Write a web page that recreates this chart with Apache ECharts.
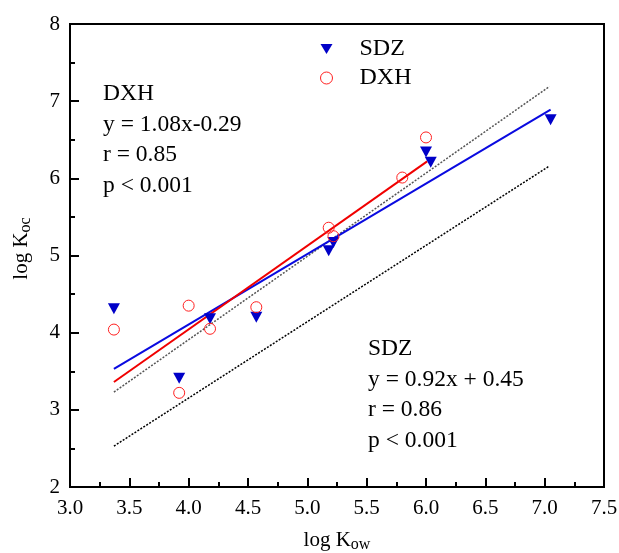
<!DOCTYPE html>
<html><head><meta charset="utf-8">
<script src="https://cdn.jsdelivr.net/npm/echarts@6/dist/echarts.min.js"></script>
<style>html,body{margin:0;padding:0;background:#fff}#c{width:619px;height:553px}</style>
</head><body><div id="c"></div>
<script>
// Data
const sdzX = [3.37, 3.92, 4.18, 4.57, 5.18, 5.22, 6.00, 6.04, 7.05];
const sdzY = [4.31, 3.41, 4.18, 4.20, 5.06, 5.17, 6.34, 6.21, 6.76];
const dxhX = [3.37, 3.92, 4.00, 4.18, 4.57, 5.18, 5.22, 5.80, 6.00];
const dxhY = [4.04, 3.22, 4.35, 4.05, 4.33, 5.36, 5.25, 6.01, 6.53];
const sdzFitX = [3.37, 7.05];
const sdzFitY = [3.53, 6.89];
const dxhFitX = [3.37, 6.01];
const dxhFitY = [3.36, 6.22];
const grayRefX = [3.37, 7.04];
const grayRefY = [3.23, 7.19];
const blackRefX = [3.37, 7.04];
const blackRefY = [2.53, 6.16];
const xTicks = {min: 3.0, max: 7.5, interval: 0.5};
const yTicks = {min: 2, max: 8, interval: 1};
const dxhNote = ['DXH', 'y = 1.08x-0.29', 'r = 0.85', 'p < 0.001'];
const sdzNote = ['SDZ', 'y = 0.92x + 0.45', 'r = 0.86', 'p < 0.001'];

const zip = (a, b) => a.map((v, i) => [v, b[i]]);
const FONT = '"Liberation Serif", "Times New Roman", serif';

const chart = echarts.init(document.getElementById('c'));
chart.setOption({
  animation: false,
  backgroundColor: '#ffffff',
  grid: {left: 70, right: 15, top: 24, bottom: 66, show: true, borderColor: '#000000', borderWidth: 2,
    containLabel: false, outerBoundsMode: 'none'},
  xAxis: {
    type: 'value', min: xTicks.min, max: xTicks.max, interval: xTicks.interval,
    axisLine: {show: true, onZero: false, lineStyle: {color: '#000000', width: 2}},
    axisTick: {show: true, inside: true, length: 9, lineStyle: {color: '#000000', width: 2}},
    minorTick: {show: true, splitNumber: 2, length: 5, lineStyle: {color: '#000000', width: 2}},
    splitLine: {show: false},
    axisLabel: {color: '#000', fontFamily: FONT, fontSize: 21, margin: 11, formatter: v => v.toFixed(1)},
    name: 'log K{sub|ow}', nameLocation: 'middle', nameGap: 40,
    nameTextStyle: {color: '#000', fontFamily: FONT, fontSize: 21,
      rich: {sub: {fontSize: 16, fontFamily: FONT, color: '#000', verticalAlign: 'bottom', padding: [10, 0, 0, 0]}}}
  },
  yAxis: {
    type: 'value', min: yTicks.min, max: yTicks.max, interval: yTicks.interval,
    axisLine: {show: true, onZero: false, lineStyle: {color: '#000000', width: 2}},
    axisTick: {show: true, inside: true, length: 9, lineStyle: {color: '#000000', width: 2}},
    minorTick: {show: true, splitNumber: 2, length: 5, lineStyle: {color: '#000000', width: 2}},
    splitLine: {show: false},
    axisLabel: {color: '#000', fontFamily: FONT, fontSize: 21, margin: 10},
    name: 'log K{sub|oc}', nameLocation: 'middle', nameGap: 36,
    nameTextStyle: {color: '#000', fontFamily: FONT, fontSize: 21, padding: [0, 0, 0, 14],
      rich: {sub: {fontSize: 16, fontFamily: FONT, color: '#000', verticalAlign: 'bottom', padding: [10, 0, 0, 0]}}}
  },
  legend: {
    orient: 'vertical', left: 315, top: 32, itemGap: 5, itemWidth: 12, itemHeight: 12,
    textStyle: {fontFamily: FONT, fontSize: 24, color: '#000', padding: [0, 0, 0, 22]},
    data: [
      {name: 'SDZ', icon: 'path://M0,0 L12,0 L6,10 Z', itemStyle: {color: '#0000c8', opacity: 1}},
      {name: 'DXH', icon: 'circle', itemStyle: {color: '#ffffff', borderColor: '#ff2020', borderWidth: 1, opacity: 1}}
    ]
  },
  series: [
    {name: 'grayRef', type: 'line', data: zip(grayRefX, grayRefY), symbol: 'none',
      lineStyle: {color: '#555', width: 1.5, type: [2, 1.5]}, z: 2},
    {name: 'blackRef', type: 'line', data: zip(blackRefX, blackRefY), symbol: 'none',
      lineStyle: {color: '#000', width: 1.5, type: [2, 1.5]}, z: 2},
    {name: 'sdzFit', type: 'line', data: zip(sdzFitX, sdzFitY), symbol: 'none',
      lineStyle: {color: '#0a0ae0', width: 2}, z: 3},
    {name: 'dxhFit', type: 'line', data: zip(dxhFitX, dxhFitY), symbol: 'none',
      lineStyle: {color: '#f00000', width: 2}, z: 3},
    {name: 'SDZ', type: 'scatter', data: zip(sdzX, sdzY), symbol: 'triangle', symbolRotate: 180,
      symbolSize: [12, 11], itemStyle: {color: '#0000c8', opacity: 1}, z: 5},
    {name: 'DXH', type: 'scatter', data: zip(dxhX, dxhY), symbol: 'circle', symbolSize: 11,
      itemStyle: {color: 'rgba(255,255,255,0)', borderColor: '#ff2020', borderWidth: 1, opacity: 1}, z: 5}
  ],
  graphic: [
    {type: 'text', left: 103, top: 79, style: {text: dxhNote.join('\n'), font: '23.5px ' + FONT, lineHeight: 30.5, fill: '#000'}},
    {type: 'text', left: 368, top: 334, style: {text: sdzNote.join('\n'), font: '23.5px ' + FONT, lineHeight: 30.5, fill: '#000'}}
  ]
});
</script></body></html>
